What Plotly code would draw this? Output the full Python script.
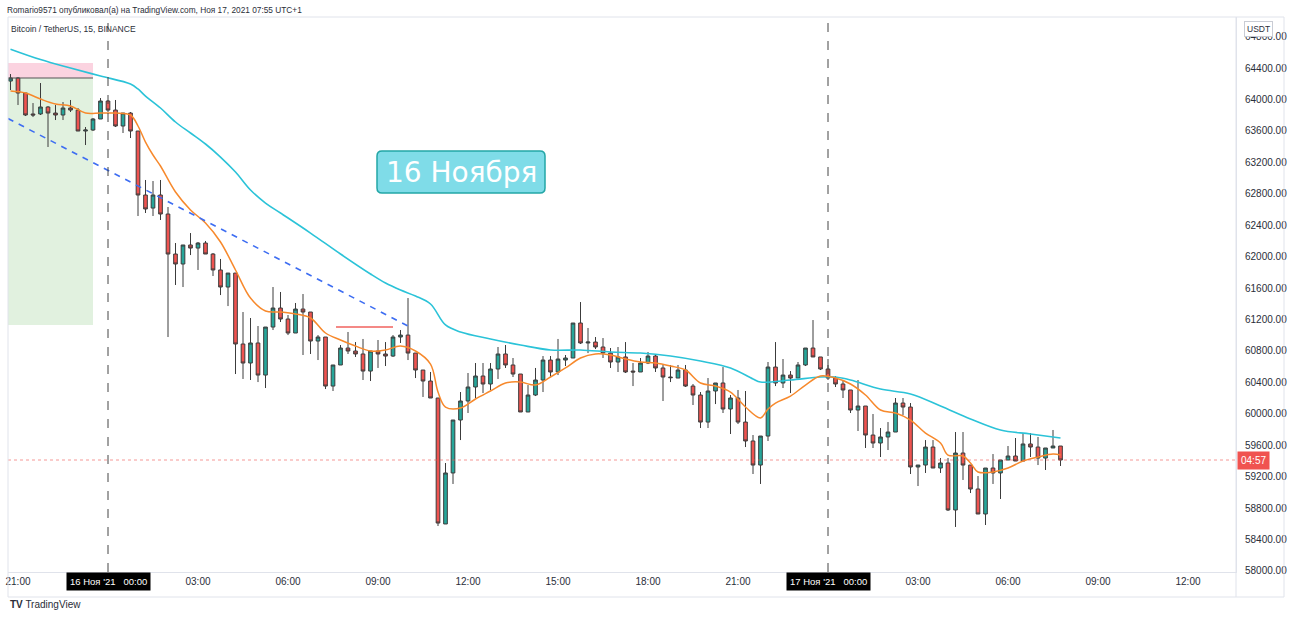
import plotly.graph_objects as go
import pandas as pd

# ---------------- data (BTC/USDT, 15m, Binance) ----------------
start_time = "2021-11-15 20:45"
opens = [64234,64273,64082,63815,63815,63904,63827,63802,63891,63865,63598,63611,63751,63980,63865,63662,63827,63598,62784,62618,
         62784,62542,62033,61906,62148,62109,62173,62033,61830,61613,61791,60888,60646,60901,60493,61104,61346,61206,61028,61333,
         61295,60926,60977,60353,60621,60837,60799,60761,60544,60799,60761,60735,60977,61002,60773,60557,60417,60201,58598,59247,
         59921,60163,60341,60481,60379,60570,60761,60621,60506,60023,60239,60430,60684,60532,60684,60710,61155,60901,60913,60850,
         60773,60659,60723,60544,60532,60646,60735,60583,60468,60455,60557,60353,60239,59895,60290,60392,60061,60201,59895,59654,
         59348,59717,60595,60392,60493,60455,60621,60837,60723,60570,60455,60379,60303,60048,60099,59730,59628,59705,59768,60137,
         60086,59323,59348,59577,59310,59374,58776,59501,59348,59043,58725,59310,59247,59412,59463,59399,59616,59577,59437,59565,
         59590]
highs = [64323,64285,64082,63954,64209,63916,63929,63967,63993,63891,63649,63764,64018,63993,63993,63827,63840,63598,62975,62962,
         62975,62631,62173,62148,62300,62186,62199,62046,61970,61791,61791,61295,61219,61117,61104,61613,61550,61257,61410,61524,
         61295,61002,60977,60621,60875,61041,60913,60952,60799,60939,60913,61002,61066,61473,60773,60557,60532,60201,59374,59921,
         60277,60519,60646,60646,60646,60850,60875,60710,60506,60366,60583,60735,60735,60952,60748,61155,61422,61092,60977,60964,
         60837,60850,60913,60646,60710,60786,60761,60621,60621,60621,60621,60379,60277,60455,60392,60595,60239,60303,60290,59730,
         59717,60659,60913,60697,60544,60659,60837,61193,60723,60697,60481,60417,60303,60430,60099,59997,59819,59895,60201,60201,
         60137,59348,59666,59666,59437,59437,59768,59768,59348,59208,59310,59488,59412,59590,59692,59755,59755,59705,59565,59794,
         59590]
lows = [64120,63929,63789,63776,63802,63395,63738,63738,63840,63598,63420,63598,63751,63840,63649,63573,63509,62517,62555,62517,
        62466,60977,61639,61613,62020,61830,62033,61753,61511,61371,60506,60443,60430,60404,60328,61066,61168,61002,61028,60748,
        60761,60684,60315,60290,60621,60761,60723,60430,60417,60583,60608,60723,60901,60684,60455,60214,60201,58572,58598,59107,
        59666,60010,60201,60264,60303,60443,60583,60468,60023,60023,60226,60277,60468,60493,60608,60710,60888,60773,60824,60710,
        60583,60532,60519,60353,60532,60633,60532,60163,60404,60455,60341,60112,59819,59819,60124,60010,59743,59870,59577,59234,
        59107,59654,60353,60328,60264,60455,60608,60723,60557,60430,60341,60201,60010,59781,59565,59565,59450,59539,59768,59985,
        59234,59081,59247,59310,59247,58763,58560,59158,58992,58725,58585,59107,58916,59412,59399,59399,59450,59348,59285,59565,
        59336]
closes = [64273,64082,63802,63802,63904,63827,63802,63891,63865,63598,63611,63751,63980,63865,63662,63827,63598,62784,62606,62784,
          62542,62033,61906,62148,62109,62173,62033,61830,61613,61791,60888,60646,60901,60493,61104,61346,61206,61028,61333,61295,
          60926,60977,60353,60621,60837,60799,60761,60544,60799,60761,60735,60977,61002,60773,60557,60417,60201,58610,59247,59921,
          60163,60341,60481,60379,60570,60761,60621,60506,60023,60239,60430,60684,60532,60697,60710,61155,60901,60913,60850,60773,
          60659,60723,60532,60532,60646,60735,60583,60468,60460,60557,60353,60239,59895,60290,60392,60061,60201,59895,59654,59348,
          59717,60595,60392,60493,60455,60621,60837,60723,60570,60455,60379,60303,60048,60099,59730,59628,59705,59768,60137,60086,
          59323,59348,59577,59310,59374,58776,59501,59348,59043,58725,59310,59247,59412,59463,59399,59616,59577,59437,59565,59590,
          59412]

# moving averages (candle index -> price)
fast_ma_idx = [0,2,4,6,8,10,12,14,16,17,18,19,20,22,24,26,28,30,32,34,36,38,40,42,44,46,48,50,52,54,56,57,58,60,62,64,66,68,70,
               72,74,76,78,80,82,84,86,88,90,92,94,96,98,100,101,102,104,106,108,110,112,114,116,118,120,122,124,125,127,128,129,
               131,133,135,137,139,140]
fast_ma = [64107,64082,64005,63942,63916,63827,63827,63827,63802,63662,63458,63293,63153,62822,62594,62428,62186,61830,61473,
           61308,61295,61270,61219,61028,60939,60862,60799,60812,60862,60799,60633,60277,60086,60073,60188,60290,60392,60404,
           60366,60468,60583,60710,60761,60748,60697,60659,60646,60608,60557,60392,60353,60277,60086,59947,60061,60137,60226,
           60366,60481,60455,60379,60239,60048,60010,59921,59755,59628,59475,59463,59374,59260,59260,59310,59399,59450,59488,59475]
slow_ma_idx = [0,4,8,12,16,17,18,20,22,24,26,28,30,32,34,36,40,44,48,50,52,54,56,58,60,64,68,72,76,80,84,88,92,96,99,100,104,
               108,110,112,116,120,124,128,132,136,140]
slow_ma = [64640,64508,64400,64298,64196,64133,64043,63891,63713,63573,63433,63267,63076,62847,62682,62555,62300,62033,61779,
           61664,61575,61499,61397,61130,61041,60952,60875,60812,60812,60786,60773,60735,60671,60583,60443,60404,60430,60468,
           60468,60430,60315,60252,60099,59934,59794,59743,59692]

# drawings
trend_start = ("2021-11-15 20:40", 63757)
trend_end = ("2021-11-16 10:00", 61117)
level_line = ("2021-11-16 07:36", "2021-11-16 09:30", 61104)
pos_x = ("2021-11-15 20:40", "2021-11-15 23:30")
pos_entry, pos_stop, pos_target = 64273, 64463, 61130
last_price = 59412
y_ticks = [58000 + 400 * i for i in range(18)]
x_ticks = ["2021-11-15 21:00", "2021-11-16 03:00", "2021-11-16 06:00", "2021-11-16 09:00", "2021-11-16 12:00",
           "2021-11-16 15:00", "2021-11-16 18:00", "2021-11-16 21:00", "2021-11-17 03:00", "2021-11-17 06:00",
           "2021-11-17 09:00", "2021-11-17 12:00"]
x_tick_text = ["21:00", "03:00", "06:00", "09:00", "12:00", "15:00", "18:00", "21:00", "03:00", "06:00", "09:00", "12:00"]
day_marks = [("2021-11-16 00:00", "16 Ноя '21"), ("2021-11-17 00:00", "17 Ноя '21")]

times = pd.date_range(start_time, periods=len(opens), freq="15min")

fig = go.Figure()

# position tool rectangles
fig.add_shape(type="rect", x0=pos_x[0], x1=pos_x[1], y0=pos_entry, y1=pos_stop,
              fillcolor="rgba(242,120,160,0.33)", line_width=0, layer="below")
fig.add_shape(type="rect", x0=pos_x[0], x1=pos_x[1], y0=pos_target, y1=pos_entry,
              fillcolor="rgba(120,190,110,0.22)", line_width=0, layer="below")
fig.add_shape(type="line", x0=pos_x[0], x1=pos_x[1], y0=pos_entry, y1=pos_entry,
              line=dict(color="#555555", width=1.2))

# vertical day separators
for d, _ in day_marks:
    fig.add_shape(type="line", x0=d, x1=d, y0=0, y1=1, yref="paper",
                  line=dict(color="#444444", width=1, dash="dash"))

# last price dotted line
fig.add_shape(type="line", x0=0, x1=1, xref="paper", y0=last_price, y1=last_price,
              line=dict(color="rgba(239,83,80,0.6)", width=1, dash="dot"))

fig.add_trace(go.Scatter(x=times[slow_ma_idx], y=slow_ma, mode="lines", line=dict(color="#2bc3d8", width=1.6, shape="spline"),
                         hoverinfo="skip"))
fig.add_trace(go.Scatter(x=times[fast_ma_idx], y=fast_ma, mode="lines", line=dict(color="#f7892c", width=1.5, shape="spline"),
                         hoverinfo="skip"))

fig.add_trace(go.Candlestick(
    x=times, open=opens, high=highs, low=lows, close=closes,
    increasing=dict(line=dict(color="#3c3c3c", width=1), fillcolor="#26a69a"),
    decreasing=dict(line=dict(color="#3c3c3c", width=1), fillcolor="#ef5350"),
    whiskerwidth=0))

# trend line
fig.add_trace(go.Scatter(x=[trend_start[0], trend_end[0]], y=[trend_start[1], trend_end[1]], mode="lines",
                         line=dict(color="#3d6df2", width=1.6, dash="6px,6px"), hoverinfo="skip"))
# red level
fig.add_trace(go.Scatter(x=[level_line[0], level_line[1]], y=[level_line[2], level_line[2]], mode="lines",
                         line=dict(color="#f0625e", width=1.6), hoverinfo="skip"))

PLOT_L, PLOT_R, PLOT_T, PLOT_B = 8, 1236, 17, 572
def px(x):
    return (x - PLOT_L) / (PLOT_R - PLOT_L)
def py(y):
    return (PLOT_B - y) / (PLOT_B - PLOT_T)

# rounded callout box behind "16 Ноября"
def rounded_rect(x0, y0, x1, y1, r):
    rx, ry = r / (PLOT_R - PLOT_L), r / (PLOT_B - PLOT_T)
    X0, X1, Yt, Yb = px(x0), px(x1), py(y0), py(y1)
    return (f"M {X0+rx},{Yt} L {X1-rx},{Yt} Q {X1},{Yt} {X1},{Yt-ry} L {X1},{Yb+ry} Q {X1},{Yb} {X1-rx},{Yb} "
            f"L {X0+rx},{Yb} Q {X0},{Yb} {X0},{Yb+ry} L {X0},{Yt-ry} Q {X0},{Yt} {X0+rx},{Yt} Z")
fig.add_shape(type="path", xref="paper", yref="paper", path=rounded_rect(377, 151, 545, 193, 5),
              fillcolor="#7fdce8", line=dict(color="#23a6a6", width=1.5))

ann = []
ann.append(dict(xref="paper", yref="paper", x=px(5), y=py(10), xanchor="left", yanchor="middle", showarrow=False,
                text="Romario9571 опубликовал(а) на TradingView.com, Ноя 17, 2021 07:55 UTC+1",
                font=dict(family="Liberation Sans", size=8.3, color="#2a2e39")))
ann.append(dict(xref="paper", yref="paper", x=px(9), y=py(29), xanchor="left", yanchor="middle", showarrow=False,
                text="Bitcoin / TetherUS, 15, BINANCE", font=dict(family="Liberation Sans", size=8.5, color="#2a2e39")))
ann.append(dict(xref="paper", yref="paper", x=px(461), y=py(172), xanchor="center", yanchor="middle", showarrow=False,
                text="16 Ноября", font=dict(family="DejaVu Sans", size=28, color="#ffffff")))
for d, lbl in day_marks:
    ann.append(dict(xref="x", yref="paper", x=d, y=py(581.5), showarrow=False, yanchor="middle",
                    text=lbl + "&nbsp;&nbsp;&nbsp;00:00", font=dict(family="Liberation Sans", size=9.5, color="#ffffff"),
                    bgcolor="#000000", borderpad=3))
ann.append(dict(xref="paper", yref="y", x=px(1237), y=last_price, xanchor="left", showarrow=False, text="04:57",
                font=dict(family="Liberation Sans", size=10, color="#ffffff"), bgcolor="#f05350", borderpad=3))
ann.append(dict(xref="paper", yref="paper", x=px(1259), y=py(29), xanchor="center", yanchor="middle", showarrow=False,
                text="USDT", font=dict(family="Liberation Sans", size=8.5, color="#2a2e39"), bgcolor="#ffffff",
                bordercolor="#c9ccd4", borderwidth=1, borderpad=2))
ann.append(dict(xref="paper", yref="paper", x=px(8), y=py(604), xanchor="left", yanchor="middle", showarrow=False,
                text="<b>TV</b> TradingView", font=dict(family="Liberation Sans", size=10, color="#2a2e39")))

# frame lines around axes
frame = [
    dict(type="line", xref="paper", yref="paper", x0=px(8), x1=px(1284), y0=py(597), y1=py(597), line=dict(color="#e0e3eb", width=1)),
    dict(type="line", xref="paper", yref="paper", x0=px(1236), x1=px(1236), y0=py(597), y1=py(17), line=dict(color="#e0e3eb", width=1)),
    dict(type="line", xref="paper", yref="paper", x0=px(1284), x1=px(1284), y0=py(597), y1=py(17), line=dict(color="#e0e3eb", width=1)),
    dict(type="line", xref="paper", yref="paper", x0=px(8), x1=px(8), y0=py(597), y1=py(17), line=dict(color="#e0e3eb", width=1)),
    dict(type="line", xref="paper", yref="paper", x0=px(8), x1=px(1284), y0=py(17), y1=py(17), line=dict(color="#e0e3eb", width=1)),
]
for s in frame:
    fig.add_shape(**s)

fig.update_layout(
    width=1290, height=617, margin=dict(l=PLOT_L, r=1290 - PLOT_R, t=PLOT_T, b=617 - PLOT_B, autoexpand=False),
    paper_bgcolor="#ffffff", plot_bgcolor="#ffffff", showlegend=False, annotations=ann,
    xaxis=dict(type="date", range=["2021-11-15 20:40", "2021-11-17 13:36"], rangeslider=dict(visible=False),
               showgrid=False, zeroline=False, tickvals=x_ticks, ticktext=x_tick_text, ticks="", automargin=False,
               tickfont=dict(family="Liberation Sans", size=10, color="#2a2e39"), showline=True, linecolor="#e0e3eb"),
    yaxis=dict(side="right", range=[57987, 65049], showgrid=False, zeroline=False, tickvals=y_ticks, automargin=False,
               tickformat=".2f", ticks="outside", ticklen=6, tickcolor="rgba(0,0,0,0)",
               tickfont=dict(family="Liberation Sans", size=10, color="#2a2e39"), showline=True, linecolor="#e0e3eb"),
)

fig.write_html("out.html")
